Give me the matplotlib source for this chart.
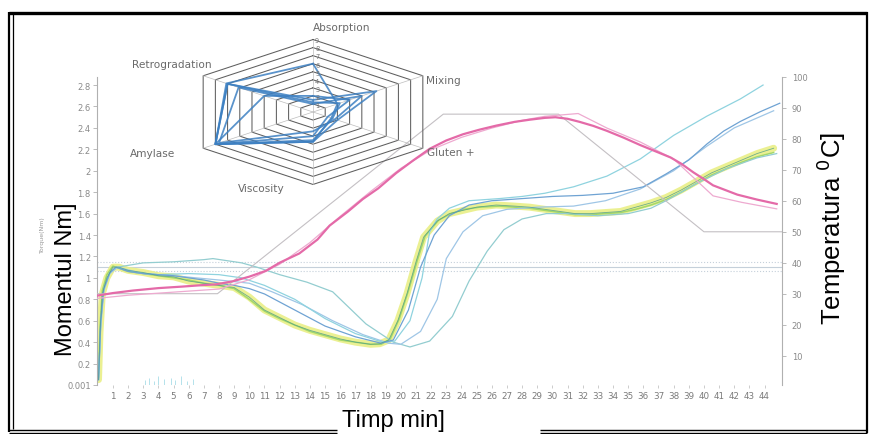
import numpy as np
import matplotlib
matplotlib.use("Agg")
import matplotlib.pyplot as plt
from matplotlib.lines import Line2D

W, H = 870, 435

# --- torque curves (Nm) vs time (min) ---
t_yellow = [0.05, 0.15, 0.3, 0.6, 1.0, 1.4, 2.0, 3.0, 4.0, 5.0, 6.0, 7.0, 8.0, 9.0, 10.0,
            11.0, 12.0, 13.0, 14.0, 15.0, 16.0, 17.0, 18.0, 18.6, 19.2, 19.8, 20.4, 21.0,
            21.5, 22.4, 23.2, 24.1, 25.0, 26.3, 27.5, 28.5, 29.5, 30.5, 31.5, 32.5, 33.5,
            34.5, 35.5, 36.5, 37.5, 38.5, 39.5, 40.5, 41.5, 42.5, 43.5, 44.6]
torque_yellow = [0.05, 0.5, 0.85, 1.0, 1.1, 1.1, 1.07, 1.05, 1.02, 1.01, 0.97, 0.95, 0.93, 0.91, 0.82,
                 0.7, 0.63, 0.56, 0.51, 0.47, 0.43, 0.4, 0.38, 0.385, 0.42, 0.6, 0.85, 1.15,
                 1.38, 1.53, 1.6, 1.63, 1.66, 1.68, 1.67, 1.66, 1.64, 1.62, 1.6, 1.6, 1.61,
                 1.62, 1.66, 1.7, 1.75, 1.82, 1.9, 1.98, 2.04, 2.1, 2.16, 2.21]

t_green = [0.05, 0.15, 0.3, 0.6, 1.0, 1.4, 2.0, 3.0, 4.0, 5.0, 6.0, 7.0, 8.0, 9.0, 10.0,
           11.0, 12.0, 13.0, 14.0, 15.0, 16.0, 17.0, 18.0, 18.7, 19.3, 19.9, 20.5, 21.1,
           21.6, 22.5, 23.3, 24.2, 25.2, 26.5, 27.5, 28.5, 29.5, 30.5, 31.5, 32.5, 33.5,
           34.5, 35.5, 36.5, 37.5, 38.5, 39.5, 40.5, 41.5, 42.5, 43.5, 44.6]
torque_green = [0.07, 0.55, 0.88, 1.03, 1.11, 1.09, 1.06, 1.04, 1.02, 1.0, 0.98, 0.95, 0.93, 0.9, 0.8,
                0.69, 0.62, 0.56, 0.5, 0.46, 0.42, 0.4, 0.38, 0.38, 0.43, 0.62, 0.88, 1.17,
                1.39, 1.54, 1.6, 1.64, 1.66, 1.67, 1.66, 1.65, 1.63, 1.61, 1.59, 1.59, 1.6,
                1.61, 1.64, 1.68, 1.73, 1.8, 1.88, 1.96, 2.02, 2.08, 2.13, 2.17]

t_blue1 = [0.05, 0.2, 0.4, 0.8, 1.2, 2.0, 3.0, 5.0, 7.0, 8.0, 9.0, 10.0, 11.0, 13.0, 15.0,
           17.0, 18.7, 19.5, 20.5, 21.3, 22.2, 23.2, 24.5, 26.0, 28.0, 30.0, 32.0, 34.0,
           36.0, 37.5, 39.0, 40.2, 41.3, 42.4, 43.7, 45.0]
torque_blue1 = [0.05, 0.6, 0.9, 1.05, 1.1, 1.06, 1.04, 1.02, 0.98, 0.95, 0.93, 0.9, 0.85, 0.7, 0.55,
                0.45, 0.39, 0.42, 0.7, 1.1, 1.4, 1.58, 1.68, 1.72, 1.74, 1.76, 1.77, 1.79,
                1.85, 1.97, 2.1, 2.25, 2.37, 2.46, 2.55, 2.63]

t_cyan = [0.05, 0.2, 0.4, 0.8, 1.2, 2.5, 4.0, 6.0, 8.0, 9.5, 11.0, 13.0, 15.0, 17.0, 18.8,
          19.6, 20.6, 21.4, 21.9, 22.4, 23.2, 24.5, 26.5, 28.0, 29.5, 31.4, 33.6, 35.8,
          38.0, 40.2, 42.4, 43.9]
torque_cyan = [0.05, 0.6, 0.9, 1.05, 1.1, 1.05, 1.03, 1.04, 1.03, 1.0, 0.93, 0.8, 0.62, 0.48, 0.4,
               0.41, 0.6, 1.0, 1.43, 1.55, 1.65, 1.72, 1.74, 1.76, 1.79, 1.85, 1.95, 2.11,
               2.33, 2.51, 2.67, 2.8]

t_blue2 = [0.05, 0.2, 0.4, 0.8, 1.3, 3.0, 5.0, 8.0, 10.0, 11.5, 13.5, 15.5, 17.5, 19.2, 20.0,
           21.3, 22.4, 23.0, 24.1, 25.4, 27.0, 29.0, 31.4, 33.5, 35.8, 38.0, 40.2, 42.0, 44.6]
torque_blue2 = [0.05, 0.55, 0.88, 1.04, 1.1, 1.04, 1.02, 0.98, 0.95, 0.87, 0.75, 0.6, 0.47, 0.39, 0.38,
                0.5, 0.8, 1.18, 1.43, 1.58, 1.64, 1.66, 1.67, 1.72, 1.83, 2.0, 2.23, 2.4, 2.56]

t_teal = [0.05, 0.2, 0.4, 0.8, 1.3, 3.0, 5.0, 7.0, 7.6, 9.5, 10.5, 12.0, 13.8, 15.5, 17.7,
          19.5, 20.6, 21.9, 23.4, 24.5, 25.7, 26.8, 28.0, 29.6, 31.0, 33.0, 35.0, 36.5,
          37.5, 39.5, 41.5, 43.5, 44.8]
torque_teal = [0.05, 0.6, 0.9, 1.05, 1.1, 1.14, 1.15, 1.17, 1.18, 1.14, 1.1, 1.03, 0.96, 0.87, 0.57,
               0.4, 0.355, 0.41, 0.64, 0.97, 1.25, 1.45, 1.55, 1.6, 1.6, 1.58, 1.6, 1.65,
               1.72, 1.88, 2.02, 2.12, 2.16]

# consistency band around the mixing target
band_levels = [1.145, 1.10, 1.065]
band_styles = [":", "-", ":"]

# --- temperature (deg C) ---
t_temp = [0.0, 1.0, 2.3, 4.0, 5.6, 7.0, 7.8, 8.9, 10.0, 11.1, 12.0, 13.3, 14.5, 15.3, 16.5,
          17.5, 18.5, 19.7, 20.8, 21.9, 23.0, 24.1, 25.2, 26.3, 27.5, 28.5, 29.5, 30.2,
          31.0, 31.8, 32.7, 33.6, 34.7, 35.8, 36.8, 37.8, 38.5, 39.3, 40.0, 40.6, 41.4,
          42.2, 43.5, 44.8]
temp_dough = [29.4, 30.2, 31.0, 31.8, 32.3, 32.8, 33.0, 34.0, 35.5, 37.4, 40.0, 43.0, 47.5, 52.0, 56.5,
              60.6, 64.0, 69.0, 73.0, 76.8, 79.5, 81.5, 83.0, 84.3, 85.5, 86.2, 86.8, 87.0,
              86.5, 85.5, 84.2, 82.6, 80.4, 78.0, 76.0, 74.0, 72.0, 69.2, 67.0, 65.0, 63.5,
              62.0, 60.4, 59.0]

t_temp2 = [0.0, 2.0, 5.0, 8.0, 10.0, 12.0, 14.0, 16.0, 18.0, 20.0, 22.0, 24.0, 26.0, 28.0, 29.5,
           31.7, 33.6, 35.8, 38.0, 40.6, 42.5, 44.8]
temp_dough2 = [28.5, 29.5, 30.5, 31.5, 34.5, 39.5, 46.5, 55.0, 63.0, 70.5, 76.5, 80.5, 83.5, 86.0, 87.3,
               88.2, 83.5, 79.0, 73.5, 61.6, 59.5, 57.4]

t_setpoint = [0.0, 7.9, 22.8, 30.4, 40.0, 45.2]
temp_setpoint = [30, 30, 88, 88, 50, 50]

# short noise marks near the baseline
t_spikes = [3.1, 3.4, 3.7, 4.0, 4.4, 4.8, 5.1, 5.5, 5.9, 6.3]
h_spikes = [0.05, 0.07, 0.04, 0.08, 0.06, 0.07, 0.05, 0.08, 0.04, 0.06]

minutes = list(range(1, 45))
torque_ticks = [0, 0.2, 0.4, 0.6, 0.8, 1.0, 1.2, 1.4, 1.6, 1.8, 2.0, 2.2, 2.4, 2.6, 2.8]
torque_tick_labels = ["0.001", "0.2", "0.4", "0.6", "0.8", "1", "1.2", "1.4", "1.6", "1.8",
                      "2", "2.2", "2.4", "2.6", "2.8"]
temp_ticks = [10, 20, 30, 40, 50, 60, 70, 80, 90, 100]

# --- radar profile ---
radar_names = ["Absorption", "Mixing", "Gluten +", "Viscosity", "Amylase", "Retrogradation"]
radar_angles = [90, 30, -30, -90, 210, 150]
radar_profiles = [
    [6.0, 2.0, 1.5, 3.7, 8.0, 7.1],
    [1.5, 5.2, 2.0, 3.7, 8.0, 7.0],
    [1.0, 4.0, 1.8, 2.4, 7.7, 6.1],
    [2.0, 3.0, 1.2, 3.0, 8.0, 4.0],
    [1.2, 2.2, 1.6, 3.5, 8.0, 7.0],
]
radar_rings = list(range(1, 10))


def px_box(left, top, right, bottom):
    return [left / W, 1 - bottom / H, (right - left) / W, (bottom - top) / H]


def frame_line(x0, y0, x1, y1, lw):
    fig.add_artist(Line2D([x0 / W, x1 / W], [1 - y0 / H, 1 - y1 / H],
                          transform=fig.transFigure, color="black", lw=lw,
                          solid_capstyle="butt"))


fig = plt.figure(figsize=(8.7, 4.35), dpi=100)
fig.patch.set_facecolor("white")

ax = fig.add_axes(px_box(97, 78, 782, 386))
ax2 = ax.twinx()

ax.set_xlim(-0.05, 45.15)
ax.set_ylim(0, 2.875)
ax2.set_ylim(0.5, 100)

for lvl, ls in zip(band_levels, band_styles):
    ax.axhline(lvl, color="#c5d0da", lw=0.8, ls=ls, zorder=1)

ax.vlines(t_spikes, 0, h_spikes, color="#a8dde8", lw=0.6)

ax.plot(t_yellow, torque_yellow, color="#e9ef86", lw=5.0, alpha=0.9, solid_capstyle="round")
ax.plot(t_green, torque_green, color="#a4d86a", lw=1.1)
ax.plot(t_teal, torque_teal, color="#93cdd0", lw=0.9)
ax.plot(t_blue2, torque_blue2, color="#9fc6e6", lw=0.9)
ax.plot(t_cyan, torque_cyan, color="#8fd3df", lw=0.9)
ax.plot(t_blue1, torque_blue1, color="#6fa3d3", lw=0.9)
ax.plot(t_yellow, torque_yellow, color="#4f9c8c", lw=0.6, alpha=0.8)

ax2.plot(t_setpoint, temp_setpoint, color="#c4c0c4", lw=0.8)
ax2.plot(t_temp2, temp_dough2, color="#eeaad0", lw=0.9)
ax2.plot(t_temp, temp_dough, color="#e46aa8", lw=1.6)

# axes styling
for side in ("top", "bottom", "right"):
    ax.spines[side].set_visible(False)
for side in ("top", "bottom", "left"):
    ax2.spines[side].set_visible(False)
ax.spines["left"].set_color("#b0b0b0")
ax.spines["left"].set_linewidth(0.8)
ax2.spines["right"].set_color("#b0b0b0")
ax2.spines["right"].set_linewidth(0.8)

ax.set_xticks(minutes)
ax.set_xticklabels([str(m) for m in minutes], family="DejaVu Sans")
ax.tick_params(axis="x", colors="#b8b8b8", labelcolor="#7a7a7a", length=2, width=0.5,
               labelsize=6.3, pad=2)
ax.set_yticks(torque_ticks)
ax.set_yticklabels(torque_tick_labels)
ax.tick_params(axis="y", colors="#b0b0b0", labelcolor="#8a8a8a", length=3, width=0.6,
               labelsize=6, pad=1.5)
ax2.set_yticks(temp_ticks)
ax2.set_yticklabels([str(v) for v in temp_ticks])
ax2.tick_params(axis="y", colors="#b0b0b0", labelcolor="#8a8a8a", length=3, width=0.6,
                labelsize=6, pad=4)

# radar inset
rax = fig.add_axes(px_box(158, 32.5, 468, 193.5))
rax.set_xlim(-11, 11)
rax.set_ylim(-10, 10)
rax.axis("off")
rax.patch.set_alpha(0)

ang = np.deg2rad(radar_angles + radar_angles[:1])
cosA, sinA = np.cos(ang), np.sin(ang)
for k in radar_rings:
    rax.plot(k * cosA, k * sinA, color="#5e5e5e", lw=0.75)
    rax.text(0.15, k - 0.1, str(k), fontsize=4.8, color="#777777", ha="left", va="center")
for a in ang[:-1]:
    rax.plot([0, 9 * np.cos(a)], [0, 9 * np.sin(a)], color="#bdbdbd", lw=0.5)
for prof in radar_profiles:
    vals = np.array(prof + prof[:1])
    rax.plot(vals * cosA, vals * sinA, color="#3d80c2", lw=1.3, alpha=0.85)

lab_kw = dict(fontsize=7.6, color="#6a6a6a", family="DejaVu Sans", clip_on=False)
rax.text(0, 10.5, radar_names[0], ha="left", va="center", **lab_kw)
rax.text(8.0, 4.0, radar_names[1], ha="left", va="center", **lab_kw)
rax.text(8.1, -5.0, radar_names[2], ha="left", va="center", **lab_kw)
rax.text(-3.7, -9.5, radar_names[3], ha="center", va="center", **lab_kw)
rax.text(-9.8, -5.1, radar_names[4], ha="right", va="center", **lab_kw)
rax.text(-7.2, 5.95, radar_names[5], ha="right", va="center", **lab_kw)

# axis titles
big = dict(family="Liberation Sans", color="black")
fig.text(66 / W, 1 - 279 / H, "Momentul Nm]", rotation=90, ha="center", va="center",
         fontsize=17, **big)
fig.text(831 / W, 1 - 228 / H, "Temperatura $^{0}$C]", rotation=90, ha="center", va="center",
         fontsize=18.5, **big)
fig.text(393 / W, 1 - 421 / H, "Timp min]", ha="center", va="center", fontsize=17, **big)
fig.text(42 / W, 1 - 235 / H, "Torque(Nm)", rotation=90, ha="center", va="center",
         fontsize=4.5, color="#9a9a9a")

# outer double frame
frame_line(9, 14, 867, 14, 2.4)
frame_line(9, 13, 9, 433, 1.6)
frame_line(13, 14, 13, 430, 0.9)
frame_line(867, 13, 867, 434, 1.6)
frame_line(9, 430.5, 337, 430.5, 1.0)
frame_line(9, 433.5, 337, 433.5, 1.0)
frame_line(540, 430.5, 867, 430.5, 1.0)
frame_line(540, 433.5, 867, 433.5, 1.0)

fig.savefig("out.png", dpi=100)
